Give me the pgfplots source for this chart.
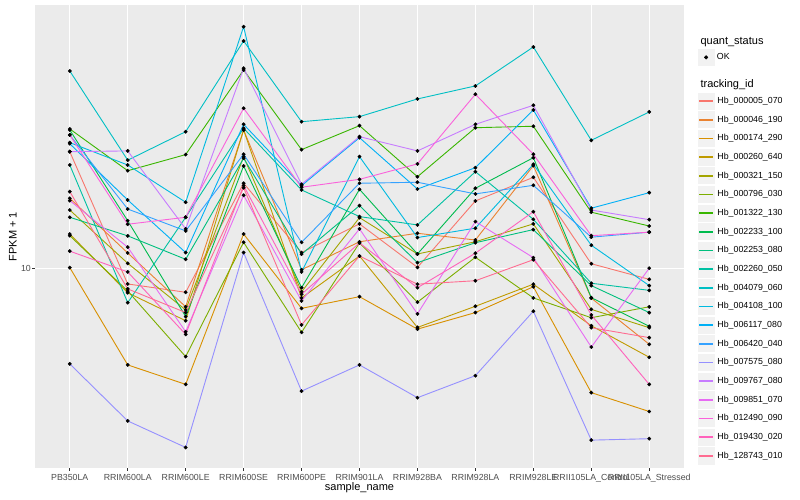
\documentclass[border=0pt]{standalone}
\usepackage{fontspec}
\setmainfont{Liberation Sans}
\usepackage{pgfplots}
\usepackage{pgfplotstable}
\pgfplotsset{compat=1.18}

\definecolor{panelbg}{HTML}{EBEBEB}
\definecolor{keybg}{HTML}{F2F2F2}
\definecolor{grey20}{HTML}{333333}
\definecolor{grey30}{HTML}{4D4D4D}
% ggplot hue palette, 20 levels
\definecolor{c1}{HTML}{F8766D}
\definecolor{c2}{HTML}{EA8331}
\definecolor{c3}{HTML}{D89000}
\definecolor{c4}{HTML}{C09B00}
\definecolor{c5}{HTML}{A3A500}
\definecolor{c6}{HTML}{7CAE00}
\definecolor{c7}{HTML}{39B600}
\definecolor{c8}{HTML}{00BB4E}
\definecolor{c9}{HTML}{00BF7D}
\definecolor{c10}{HTML}{00C1A3}
\definecolor{c11}{HTML}{00BFC4}
\definecolor{c12}{HTML}{00BAE0}
\definecolor{c13}{HTML}{00B0F6}
\definecolor{c14}{HTML}{35A2FF}
\definecolor{c15}{HTML}{9590FF}
\definecolor{c16}{HTML}{C77CFF}
\definecolor{c17}{HTML}{E76BF3}
\definecolor{c18}{HTML}{FA62DB}
\definecolor{c19}{HTML}{FF62BC}
\definecolor{c20}{HTML}{FF6C91}

% FPKM + 1 per sample (rows) and tracking id (columns)
\pgfplotstableread{
x  s1    s2    s3    s4    s5    s6    s7    s8    s9    s10   s11   s12   s13   s14   s15   s16   s17   s18   s19   s20
0  17.14 13.83 10.05 11.73 13.10 11.64 19.03 18.94 12.67 16.12 24.85 17.87 17.78 18.51 6.45  17.14 13.68 18.51 10.84 14.26
1  9.32  10.75 6.42  8.95  10.25 9.02  15.70 12.47 11.63 8.55  16.48 16.12 13.72 13.16 4.96  17.20 11.04 12.27 9.85  9.11
2  8.97  8.39  5.87  7.87  8.27  6.67  16.91 8.02  10.44 12.67 18.79 13.58 10.77 11.90 4.39  12.01 7.48  12.67 7.39  8.17
3  14.82 18.94 11.73 18.94 16.75 11.29 24.97 16.05 16.63 19.09 28.54 30.48 19.44 16.94 10.77 25.17 14.02 20.93 14.66 14.52
4  10.77 9.95  8.33  8.74  8.99  7.46  17.30 9.16  10.69 14.37 19.68 9.85  14.66 11.29 5.69  14.75 8.62  14.55 8.89  7.72
5  12.29 11.32 8.79  10.60 12.65 11.26 19.32 14.41 13.37 12.71 20.14 16.75 18.28 14.82 6.42  18.37 12.01 15.09 11.26 10.60
6  10.06 11.77 7.57  7.63  10.70 8.57  15.27 10.70 10.28 12.23 21.85 11.54 14.43 14.89 5.52  17.20 8.12  16.20 9.16  9.31
7  13.66 11.41 8.17  8.41  11.32 10.54 19.14 14.48 11.27 15.63 23.20 12.05 15.92 14.11 6.11  19.44 12.42 22.33 10.74 9.46
8  15.23 16.07 9.20  9.31  12.29 8.74  19.27 16.67 11.97 12.55 27.76 16.17 20.77 14.68 8.22  21.22 10.52 16.94 13.00 10.42
9  10.23 8.73  5.65  7.69  8.29  7.98  12.97 8.75  9.25  9.35  18.06 11.14 13.21 11.56 4.54  13.10 6.97  11.64 8.08  7.62
10 9.52  7.06  5.18  6.65  7.62  8.39  12.17 7.67  8.17  9.05  20.58 9.25  14.19 11.83 4.57  12.53 10.02 11.83 5.87  7.28
}\fpkm

\begin{document}
\begin{tikzpicture}
\useasboundingbox (0,0) rectangle (800pt,500pt);
\fill[white] (0,0) rectangle (800pt,500pt);

\begin{axis}[
  at={(35pt,32pt)}, anchor=south west,
  scale only axis, width=649pt, height=463pt,
  xmin=-0.6, xmax=10.6,
  ymode=log, ymin=3.994, ymax=33.68,
  axis background/.style={fill=panelbg},
  axis line style={draw=none},
  xtick={0,1,...,10},
  xticklabels={PB350LA,RRIM600LA,RRIM600LE,RRIM600SE,RRIM600PE,RRIM901LA,RRIM928BA,RRIM928LA,RRIM928LE,RRII105LA\_Control,RRII105LA\_Stressed},
  ytick={10}, yticklabels={10},
  xminorticks=false, yminorticks=false,
  tick pos=left, tick align=outside, major tick length=2.75pt,
  tick style={grey20, line width=1.07pt},
  grid=major, grid style={white, line width=1.07pt},
  tick label style={font=\fontsize{8.8}{10}\selectfont, text=grey30, inner sep=0pt},
  xticklabel style={anchor=north, yshift=-3.25pt},
  yticklabel style={anchor=east, xshift=-1.25pt},
  xlabel={sample\_name}, ylabel={FPKM + 1},
  label style={font=\fontsize{11}{13}\selectfont},
  xlabel style={at={([yshift=-23pt]axis description cs:0.5,0)}, anchor=base},
  ylabel style={at={([xshift=-18.3pt]axis description cs:0,0.5)}, anchor=base},
  legend entries={Hb\_000005\_070,Hb\_000046\_190,Hb\_000174\_290,Hb\_000260\_640,Hb\_000321\_150,Hb\_000796\_030,Hb\_001322\_130,Hb\_002233\_100,Hb\_002253\_080,Hb\_002260\_050,Hb\_004079\_060,Hb\_004108\_100,Hb\_006117\_080,Hb\_006420\_040,Hb\_007575\_080,Hb\_009767\_080,Hb\_009851\_070,Hb\_012490\_090,Hb\_019430\_020,Hb\_128743\_010},
  legend cell align=left,
  legend style={at={(axis description cs:1,1)}, anchor=north west,
    xshift=13.3pt, yshift=-87.06pt, draw=none, fill=none,
    inner sep=0pt, outer sep=0pt, row sep=0.49pt,
    font=\fontsize{8.8}{10}\selectfont, nodes={inner sep=0pt},
    /tikz/every odd column/.append style={column sep=2pt}},
  legend image code/.code={
    \fill[white] (0pt,-8.64pt) rectangle (17.28pt,8.64pt);
    \fill[keybg] (0.55pt,-8.09pt) rectangle (16.73pt,8.09pt);
    \fill[#1, draw=none] (1.73pt,-0.75pt) rectangle (15.55pt,0.75pt);
  },
]
% lines first, all series
\pgfplotsinvokeforeach{1,2,...,20}{
  \addplot[c#1, line width=0.9pt] table[x=x, y=s#1] {\fpkm};
}
% points on top
\pgfplotsinvokeforeach{1,2,...,20}{
  \addplot[only marks, mark=*, mark size=1.7pt, black, forget plot] table[x=x, y=s#1] {\fpkm};
}
\end{axis}

% second legend: quant_status
\begin{axis}[
  at={(35pt,32pt)}, anchor=south west,
  scale only axis, width=649pt, height=463pt,
  hide axis, xmin=0, xmax=1, ymin=0, ymax=1,
  legend cell align=left,
  legend style={at={(axis description cs:1,1)}, anchor=north west,
    xshift=13.3pt, yshift=-43.56pt, draw=none, fill=none,
    inner sep=0pt, outer sep=0pt,
    font=\fontsize{8.8}{10}\selectfont, nodes={inner sep=0pt},
    /tikz/every odd column/.append style={column sep=2pt}},
  legend image code/.code={
    \fill[white] (0pt,-8.64pt) rectangle (17.28pt,8.64pt);
    \fill[keybg] (0.55pt,-8.09pt) rectangle (16.73pt,8.09pt);
    \fill[black] (8.64pt,0pt) circle (1.8pt);
  },
]
\addplot[draw=none, forget plot] coordinates {(0,0)};
\addlegendimage{black}
\addlegendentry{OK}
\end{axis}

\node[anchor=base west, font=\fontsize{11}{13}\selectfont] at (697pt,455.7pt) {quant\_status};
\node[anchor=base west, font=\fontsize{11}{13}\selectfont] at (697pt,412.5pt) {tracking\_id};
\end{tikzpicture}
\end{document}
